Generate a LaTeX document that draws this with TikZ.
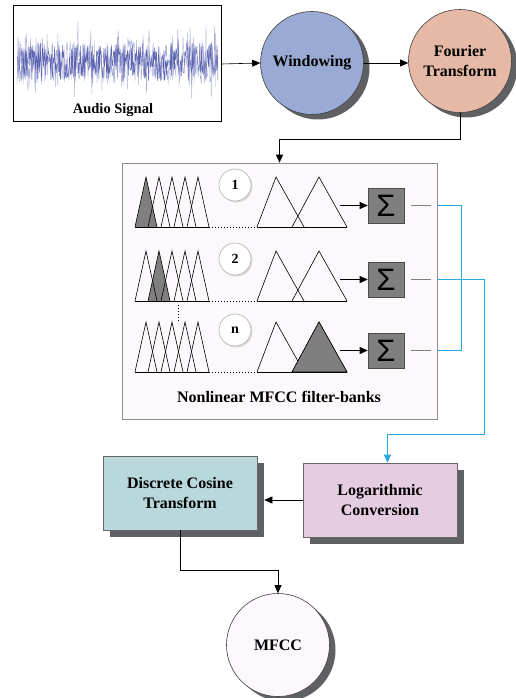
\documentclass[tikz,border=0pt]{standalone}
\usepackage{fontspec}
\setmainfont{Liberation Serif}
\newfontfamily\sumfont{Liberation Sans}
\usetikzlibrary{arrows.meta,positioning,calc,shadows}
\definecolor{winblue}{HTML}{99AAD4}
\definecolor{ftpink}{HTML}{E5B9A5}
\definecolor{fbbg}{HTML}{FCF8FC}
\definecolor{dctteal}{HTML}{B8D8DB}
\definecolor{logpink}{HTML}{E6CCE0}
\definecolor{mfccbg}{HTML}{FCF8FD}
\definecolor{shade}{HTML}{5F6063}
\definecolor{sumgray}{HTML}{7F7F7F}
\definecolor{linkblue}{HTML}{2AA9E0}
\definecolor{wavedark}{HTML}{4B53A8}
\definecolor{wavelight}{HTML}{A9AED8}
\tikzset{every picture/.style={line width=0.6pt}}
\tikzset{
  lbl/.style={font=\bfseries\fontsize{16}{20}\selectfont, align=center},
  arr/.style={-{Triangle[length=8pt,width=7pt]}},
  bluelink/.style={draw=linkblue, line width=1pt},
  roundshadow/.style={general shadow={fill=shade, shadow xshift=6pt, shadow yshift=-5pt}},
  boxshadow/.style={general shadow={fill=shade, shadow xshift=7pt, shadow yshift=-7pt}},
  stagecircle/.style={circle, draw=black!75, minimum size=103pt, inner sep=0pt, roundshadow, lbl},
  stagebox/.style={rectangle, draw=black!60, minimum width=154pt, minimum height=74pt, boxshadow, lbl},
  sumbox/.style={rectangle, draw=black!70, fill=sumgray, minimum width=36pt, minimum height=35pt, inner sep=0pt,
    font=\sumfont\fontsize{31}{31}\selectfont},
  numcircle/.style={circle, draw=black!30, fill=white, minimum size=32pt, inner sep=0pt,
    general shadow={fill=black!15, shadow xshift=1.5pt, shadow yshift=-1.5pt},
    font=\bfseries\fontsize{14}{14}\selectfont},
}

\begin{document}
\begin{tikzpicture}[x=1pt, y=-1pt]
    \useasboundingbox (0,0) rectangle (515,698);

    % 音频信号
    \node[draw, line width=1pt, minimum width=208pt, minimum height=116pt, inner sep=0pt] (audio) at (117,64) {};
    \pgfmathsetseed{42}
    \draw[wavelight, line width=0.4pt] plot[domain=17:218, samples=420] (\x, {62+24*rand+30*rand*rand*rand});
    \draw[wavedark, line width=0.45pt, opacity=0.85] plot[domain=17:218, samples=380] (\x, {62+19*rand});
    \node[font=\bfseries\fontsize{14.5}{17}\selectfont] (audiolbl) at (113,110) {Audio Signal};

    % 加窗与傅里叶变换
    \node[stagecircle, fill=winblue] (win) at (312,63) {Windowing};
    \node[stagecircle, fill=ftpink] (ft) at (460,61) {Fourier\\Transform};
    \draw[arr] (audio.east) -- (win.west);
    \draw[arr] (win.east) -- (win.east -| ft.west);

    % 滤波器组
    \node[fill=fbbg, draw=black!45, minimum width=315pt, minimum height=256pt, inner sep=0pt] (fb) at (279.5,291) {};
    \node[lbl] (fbtext) at (279,397) {Nonlinear MFCC filter-banks};
    \draw[arr] (ft.south) -- ++(0,26) -| (fb.north);

    % 阴影三角形
    \fill[sumgray] (135,227) -- (146,177) -- (157,227) -- cycle;
    \fill[sumgray] (148,301) -- (159,251) -- (170,301) -- cycle;

    \foreach \yb/\r/\num in {227/1/1, 301/2/2, 372/3/n} {
        \foreach \i in {0,...,4}
            \draw ({135+13*\i},\yb) -- ({146+13*\i},{\yb-50}) -- ({157+13*\i},\yb);
        \draw (135,\yb) -- (210,\yb);
        \draw[dotted, line width=1pt] (212,\yb) -- (256,\yb);
        \draw (257,\yb) -- (347,\yb);
        \draw (257,\yb) -- (276,{\yb-50}) -- (304,\yb);
        \draw (292,\yb) -- (319,{\yb-50}) -- (347,\yb);
        \node[numcircle] (n\r) at (235,{\yb-42}) {\num};
        \node[sumbox] (sum\r) at (386,{\yb-21.5}) {Σ};
        \coordinate (tip\r) at (340,{\yb-21.5});
        \draw[arr] (tip\r) -- (sum\r.west);
        \draw[black!50] ([xshift=7pt]sum\r.east) -- ++(20,0);
        \coordinate (out\r) at (fb.east |- sum\r);
    }
    \filldraw[fill=sumgray] (292,372) -- (319,322) -- (347,372) -- cycle;
    \draw[dotted, line width=1pt] (178,305) -- (178,323);

    % 对数与离散余弦变换
    \node[stagebox, fill=dctteal] (dct) at (180,493) {Discrete Cosine\\Transform};
    \node[stagebox, fill=logpink] (log) at (380,500) {Logarithmic\\Conversion};
    \node[stagecircle, fill=mfccbg] (mfcc) at (278,645) {MFCC};

    % 连接线
    \coordinate (bend) at (484.5,434.5);
    \coordinate (join) at (461.5,0);
    \draw[arr] (log.west) -- ([xshift=7pt]log.west -| dct.east);
    \draw[arr] (dct.south) -- ++(0,40) -| (mfcc.north);
    \draw[bluelink, arr] (out2) -| (bend) -| ([xshift=7.5pt]log.north);
    \draw[bluelink] (out1) -- (out1 -| join) -- (out3 -| join) -- (out3);
\end{tikzpicture}
\end{document}
